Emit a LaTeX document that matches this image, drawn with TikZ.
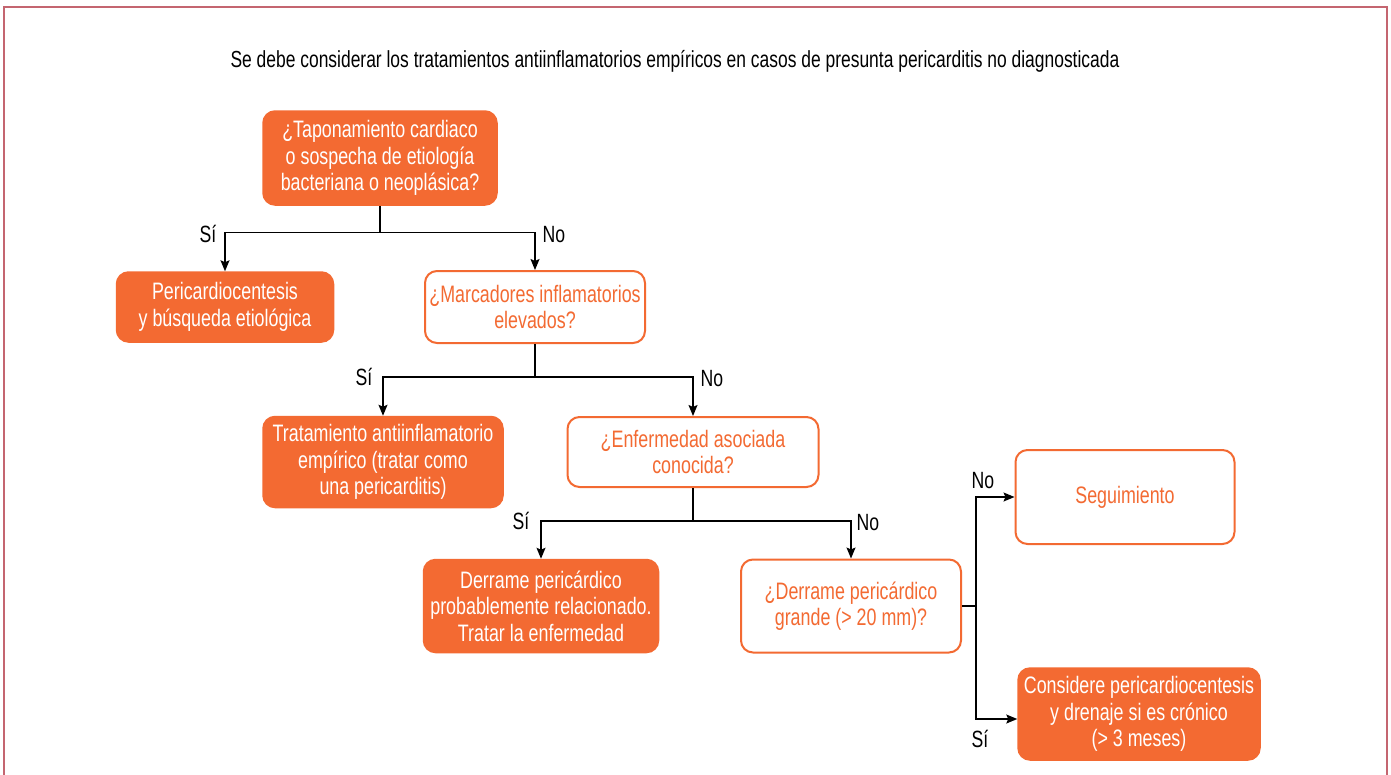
\documentclass[tikz,border=0pt]{standalone}
\usepackage{fontspec}
\setmainfont{Liberation Sans}[FakeStretch=0.75]
\usetikzlibrary{arrows.meta,calc}
\definecolor{org}{HTML}{F36A32}
\definecolor{framec}{HTML}{C46570}
\begin{document}
\begin{tikzpicture}[x=1pt,y=-1pt,
  base/.style={rounded corners=12pt, align=center, inner sep=0pt, font=\fontsize{23.8}{26.5}\selectfont},
  fbox/.style={base, fill=org, draw=org, line width=1.5pt, text=white},
  obox/.style={base, fill=white, draw=org, line width=2pt, text=org},
  conn/.style={draw=black, line width=1.4pt},
  arr/.style={conn, -{Stealth[length=11pt,width=9pt,inset=2pt]}},
  lbl/.style={font=\fontsize{23.5}{26}\selectfont, text=black, inner sep=0pt}]
\useasboundingbox (0,0) rectangle (1391,774);
\draw[framec, line width=1.6pt] (4,775) -- (4,7) -- (1387,7) -- (1387,775);
\node[font=\fontsize{23.25}{25}\selectfont, inner sep=0pt] (title) at (675,61) {Se debe considerar los tratamientos antiinflamatorios empíricos en casos de presunta pericarditis no diagnosticada};
\node[fbox, minimum width=234pt, minimum height=94pt] (q1) at (380,158) {¿Taponamiento cardiaco\\o sospecha de etiología\\bacteriana o neoplásica?};
\node[fbox, minimum width=217pt, minimum height=70pt] (a1) at (225,307) {Pericardiocentesis\\y búsqueda etiológica};
\node[obox, minimum width=220pt, minimum height=72pt] (q2) at (535,307) {¿Marcadores inflamatorios\\elevados?};
\node[fbox, minimum width=240pt, minimum height=91pt] (a2) at (383,462) {Tratamiento antiinflamatorio\\empírico (tratar como\\una pericarditis)};
\node[obox, minimum width=251pt, minimum height=70pt] (q3) at (693,452) {¿Enfermedad asociada\\conocida?};
\node[fbox, minimum width=235pt, minimum height=93pt] (a3) at (541,606) {Derrame pericárdico\\probablemente relacionado.\\Tratar la enfermedad};
\node[obox, minimum width=220pt, minimum height=93pt] (q4) at (851,606) {¿Derrame pericárdico\\grande (> 20 mm)?};
\node[obox, minimum width=219pt, minimum height=94pt] (a4) at (1125,497) {Seguimiento};
\node[fbox, minimum width=242pt, minimum height=92pt] (a5) at (1139,714) {Considere pericardiocentesis\\y drenaje si es crónico\\(> 3 meses)};
% branch 1
\draw[conn] (q1.south) -- ++(0,27) coordinate (j1);
\draw[arr] (j1) -| (a1.north);
\draw[arr] (j1) -| (q2.north);
\node[lbl] (s1) at (208,234) {Sí};
\node[lbl] (n1) at (554,235) {No};
% branch 2
\draw[conn] (q2.south) -- ++(0,33) coordinate (j2);
\draw[arr] (j2) -| (a2.north);
\draw[arr] (j2) -| (q3.north);
\node[lbl] (s2) at (364,377) {Sí};
\node[lbl] (n2) at (712,379) {No};
% branch 3
\draw[conn] (q3.south) -- ++(0,33) coordinate (j3);
\draw[arr] (j3) -| (a3.north);
\draw[arr] (j3) -| (q4.north);
\node[lbl] (s3) at (521,521) {Sí};
\node[lbl] (n3) at (868,523) {No};
% branch 4
\draw[conn] (q4.east) -- ++(14,0) coordinate (j4);
\draw[arr] (j4) |- (a4.west);
\draw[arr] (j4) |- ($(a5.west)+(0,5)$);
\node[lbl] (n4) at (983,481) {No};
\node[lbl] (s4) at (980,739) {Sí};
\end{tikzpicture}
\end{document}
